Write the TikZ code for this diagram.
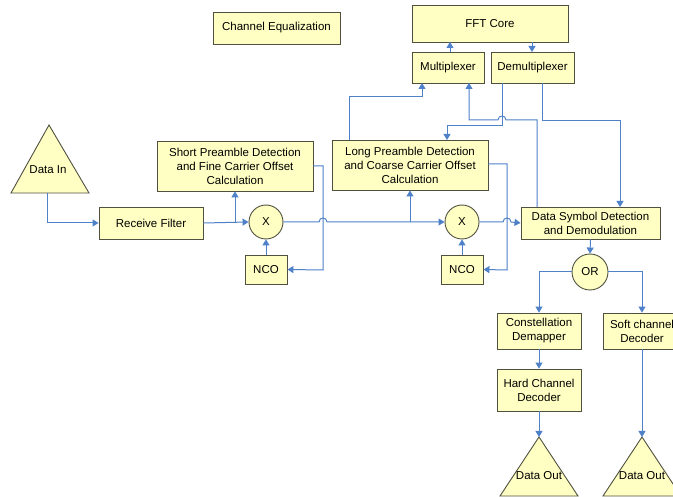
\documentclass[tikz,border=0pt]{standalone}
\usepackage{fontspec}
\setmainfont{Liberation Sans}
\usetikzlibrary{arrows.meta}
\definecolor{boxfill}{RGB}{255,255,196}
\definecolor{boxline}{RGB}{80,80,64}
\definecolor{wire}{RGB}{79,129,200}
\tikzset{
  blk/.style={draw=boxline, fill=boxfill, line width=0.9pt, inner sep=0pt,
    align=center, font=\fontsize{11.5}{14}\selectfont},
  mixer/.style={blk, circle, minimum size=34pt},
  wire/.style={draw=wire, line width=1pt},
  flow/.style={wire, -{Triangle[length=6pt,width=7pt]}},
  tri/.style={draw=boxline, fill=boxfill, line width=0.9pt},
  lbl/.style={font=\fontsize{11.5}{14}\selectfont, inner sep=0pt}
}
\begin{document}
\begin{tikzpicture}[x=1pt,y=-1pt]
\clip (0,0) rectangle (673,497);
\fill[white] (0,0) rectangle (673,497);

% blocks
\node[blk, minimum width=127pt, minimum height=32pt] (eq) at (276.5,28) {Channel Equalization};
\node[blk, minimum width=156pt, minimum height=37pt] (fft) at (490,23.5) {FFT Core};
\node[blk, minimum width=72pt, minimum height=31pt] (mux) at (448,67.5) {Multiplexer};
\node[blk, minimum width=83pt, minimum height=31pt] (demux) at (532.5,67.5) {Demultiplexer};
\node[blk, minimum width=156pt, minimum height=50pt] (sp) at (235,166) {Short Preamble Detection\\and Fine Carrier Offset\\Calculation};
\node[blk, minimum width=156pt, minimum height=50pt] (lp) at (410,165) {Long Preamble Detection\\and Coarse Carrier Offset\\Calculation};
\node[blk, minimum width=104pt, minimum height=32pt] (rf) at (151,223) {Receive Filter};
\node[mixer] (x1) at (266,222) {X};
\node[mixer] (x2) at (462,222) {X};
\node[blk, minimum width=42pt, minimum height=29pt] (nco1) at (266,269.5) {NCO};
\node[blk, minimum width=42pt, minimum height=29pt] (nco2) at (462,269.5) {NCO};
\node[blk, minimum width=139pt, minimum height=32pt] (ds) at (590.5,223) {Data Symbol Detection\\and Demodulation};
\node[mixer, minimum size=36pt] (or) at (590,272) {OR};
\node[blk, minimum width=84pt, minimum height=36pt] (cd) at (539,331) {Constellation\\Demapper};
\node[blk, minimum width=78pt, minimum height=36pt] (sc) at (642,331) {Soft channel\\Decoder};
\node[blk, minimum width=84pt, minimum height=42pt] (hd) at (539,390) {Hard Channel\\Decoder};

% input and output terminals
\draw[tri] (49,125) -- (89,193) -- (11,193) -- cycle;
\node[lbl] (din) at (48,170) {Data In};
\coordinate (dinfoot) at (47,193);
\draw[tri] (539,437) -- (578,496) -- (500,496) -- cycle;
\node[lbl] (dout1) at (539,476) {Data Out};
\coordinate (dout1top) at (539,437);
\draw[tri] (642,437) -- (681,496) -- (603,496) -- cycle;
\node[lbl] (dout2) at (642,476) {Data Out};
\coordinate (dout2top) at (642,437);

% receive chain
\draw[flow] (dinfoot) |- (rf.west);
\draw[flow] (rf.east) -- (x1.west);
\draw[flow] (235,223) -- (sp.south);
\draw[flow] (x1.east) -- (319,222)
  .. controls (319,216.7) and (327,216.7) .. (327,222) -- (x2.west);
\draw[flow] (410,222) -- (lp.south);
\draw[flow] (sp.east |- 0,166) -| (323,270) -- (nco1.east);
\draw[flow] (nco1.north) -- (x1.south);
\draw[flow] (lp.east |- 0,164) -| (507,270) -- (nco2.east);
\draw[flow] (nco2.north) -- (x2.south);
\draw[flow] (x2.east) -- (503,222)
  .. controls (503,216.7) and (511,216.7) .. (511,222) -- (ds.west);

% FFT sharing
\draw[flow] (349,140) |- (422,97) -- (422,83);
\draw[flow] (450,52) -- (450,42);
\draw[flow] (532,42) -- (532,52);
\draw[flow] (502,83) |- (447,126) -- (447,140);
\draw[flow] (537,207) |- (506,120)
  .. controls (506,114.7) and (498,114.7) .. (498,120) -| (469,83);
\draw[flow] (542,83) |- (620,121) -- (620,207);

% decoding
\draw[flow] (ds.south) -- (or.north);
\draw[flow] (or.west) -| (cd.north);
\draw[flow] (or.east) -| (sc.north);
\draw[flow] (cd.south) -- (hd.north);
\draw[flow] (hd.south) -- (dout1top);
\draw[flow] (sc.south) -- (dout2top);
\end{tikzpicture}
\end{document}
